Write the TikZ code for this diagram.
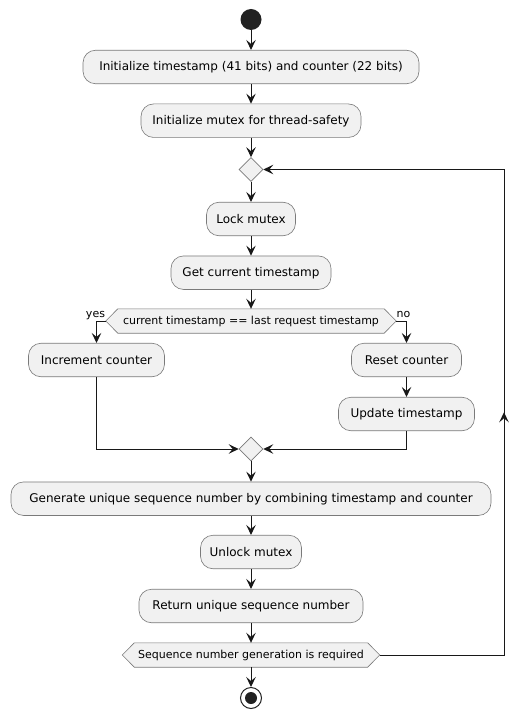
\documentclass[tikz,border=0pt]{standalone}
\usepackage{fontspec}
\setmainfont{DejaVu Sans}
\usetikzlibrary{arrows.meta,shapes.geometric,calc,backgrounds}
\definecolor{boxfill}{HTML}{F1F1F1}
\definecolor{boxline}{HTML}{7A7A7A}
\definecolor{ink}{HTML}{181818}
\definecolor{dot}{HTML}{222222}
\begin{document}
\begin{tikzpicture}[x=1pt,y=-1pt,
  act/.style={draw=boxline, fill=boxfill, line width=0.6pt, rounded corners=12.5pt, minimum height=33.5pt, inner sep=0pt, font=\fontsize{12}{14}\selectfont, text=black},
  hexn/.style={minimum height=24pt, inner sep=0pt, font=\fontsize{11}{13}\selectfont, text=black},
  hexbg/.style={draw=boxline, fill=boxfill, line width=0.6pt},
  dia/.style={diamond, draw=boxline, fill=boxfill, line width=0.6pt, minimum width=24pt, minimum height=24pt, inner sep=0pt},
  arr/.style={draw=ink, line width=1pt, -{Stealth[length=10pt,width=9.5pt,inset=4pt]}},
  lbl/.style={font=\fontsize{11}{13}\selectfont, inner sep=0pt, anchor=base, text=black},
]
\useasboundingbox (0,0) rectangle (529,719);

\node[circle, fill=dot, minimum size=21pt, inner sep=0pt] (start) at (251,19.5) {};
\node[act, minimum width=336pt] (b1) at (251,67) {Initialize timestamp (41 bits) and counter (22 bits)};
\node[act, minimum width=220pt] (b2) at (251,120.7) {Initialize mutex for thread-safety};
\node[dia] (m1) at (251,169.5) {};
\node[act, minimum width=89pt] (lock) at (251,219) {Lock mutex};
\node[act, minimum width=160pt] (get) at (251,272.7) {Get current timestamp};
\node[hexn, minimum width=290pt] (dec) at (251,321) {current timestamp == last request timestamp};
\node[act, minimum width=136pt] (inc) at (96.5,360) {Increment counter};
\node[act, minimum width=110pt] (reset) at (406.5,360) {Reset counter};
\node[act, minimum width=136pt] (upd) at (406.5,414) {Update timestamp};
\node[dia] (m2) at (251,449) {};
\node[act, minimum width=480pt] (gen) at (251,498.7) {Generate unique sequence number by combining timestamp and counter};
\node[act, minimum width=101pt] (unl) at (251,552) {Unlock mutex};
\node[act, minimum width=224pt] (ret) at (251,606) {Return unique sequence number};
\node[hexn, minimum width=257pt] (rep) at (251,655) {Sequence number generation is required};
\node[circle, draw=dot, line width=1pt, fill=white, minimum size=21pt, inner sep=0pt] (end) at (251,698) {};
\fill[dot] (end.center) circle[radius=6pt];

\begin{scope}[on background layer]
\fill[white] (0,0) rectangle (529,719);
\foreach \h in {dec,rep}
  \draw[hexbg] (\h.west) -- ([xshift=12pt]\h.north west) -- ([xshift=-12pt]\h.north east) -- (\h.east) -- ([xshift=-12pt]\h.south east) -- ([xshift=12pt]\h.south west) -- cycle;
\end{scope}

\node[lbl] (yes) at (95.5,317.5) {yes};
\node[lbl] (no) at (403.5,317.5) {no};

\draw[arr] (start) -- (b1);
\draw[arr] (b1) -- (b2);
\draw[arr] (b2) -- (m1);
\draw[arr] (m1) -- (lock);
\draw[arr] (lock) -- (get);
\draw[arr] (get) -- (dec);
\draw[arr] (dec.west) -| (inc.north);
\draw[arr] (dec.east) -| (reset.north);
\draw[arr] (reset) -- (upd);
\draw[arr] (inc.south) |- (m2.west);
\draw[arr] (upd.south) |- (m2.east);
\draw[arr] (m2) -- (gen);
\draw[arr] (gen) -- (unl);
\draw[arr] (unl) -- (ret);
\draw[arr] (ret) -- (rep);
\draw[arr] (rep) -- (end);
\coordinate (lc1) at (504,655);
\coordinate (lc2) at (504,169.5);
\draw[arr] (rep.east) -- (lc1) -- (lc2) -- (m1.east);
\draw[arr] (lc1) -- ($(lc1)!0.5!(lc2)$);
\end{tikzpicture}
\end{document}
